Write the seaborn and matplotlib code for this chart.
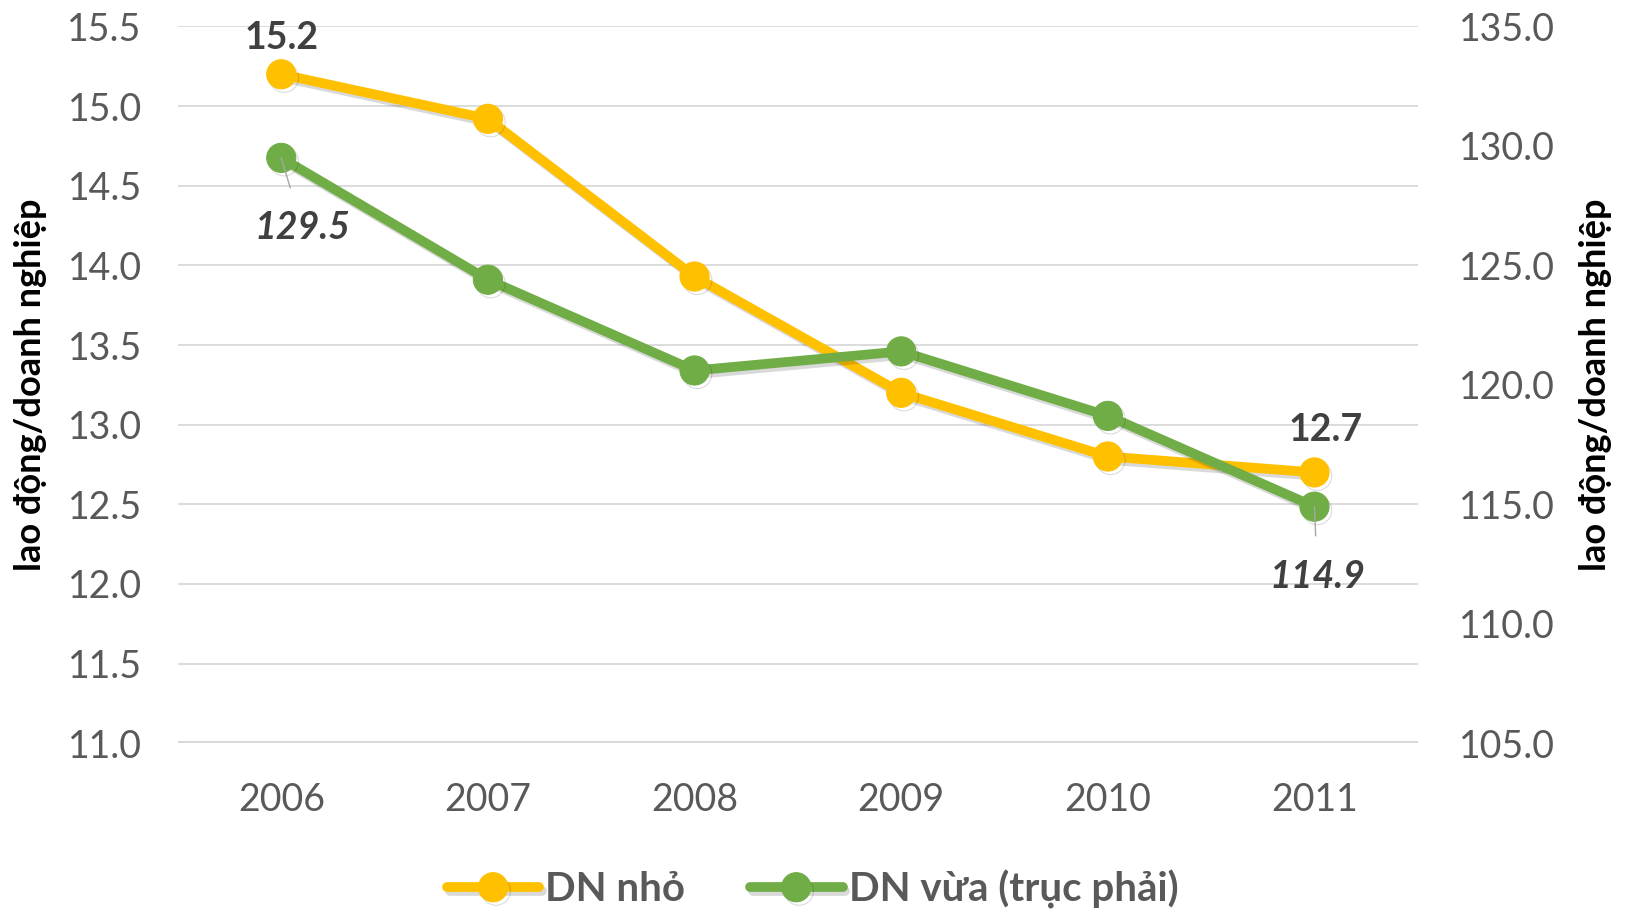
import matplotlib.pyplot as plt
import matplotlib.patheffects as pe
import numpy as np
import pandas as pd
import seaborn as sns

years = ['2006', '2007', '2008', '2009', '2010', '2011']
dn_nho = [15.2, 14.92, 13.93, 13.2, 12.8, 12.7]
dn_vua = [129.5, 124.4, 120.6, 121.4, 118.7, 114.9]

left_ticks = [11.0, 11.5, 12.0, 12.5, 13.0, 13.5, 14.0, 14.5, 15.0, 15.5]
right_ticks = [105.0, 110.0, 115.0, 120.0, 125.0, 130.0, 135.0]

YELLOW = '#FFC000'
GREEN = '#70AD47'
TICK_GREY = '#595959'
LABEL_GREY = '#404040'

sns.set_theme(style='white')
plt.rcParams['font.family'] = ['Lato', 'DejaVu Sans']

df = pd.DataFrame({'year': years, 'nho': dn_nho, 'vua': dn_vua})
x = np.arange(len(years))

fig = plt.figure(figsize=(16.25, 9.13), dpi=100)
ax = fig.add_axes([0.1095, 0.186, 0.763, 0.785])
ax2 = ax.twinx()

shadow = [pe.SimpleLineShadow(offset=(2, -2.5), alpha=0.15, shadow_color='black'), pe.Normal()]

sns.lineplot(x=x, y=df['nho'], ax=ax, color=YELLOW, lw=7, marker='o', ms=21,
             markeredgecolor=YELLOW, label='DN nhỏ', legend=False, zorder=3,
             path_effects=shadow)
sns.lineplot(x=x, y=df['vua'], ax=ax2, color=GREEN, lw=7, marker='o', ms=21,
             markeredgecolor=GREEN, label='DN vừa (trục phải)', legend=False, zorder=3,
             path_effects=shadow)

ax.set_xlim(-0.5, len(years) - 0.5)
ax.set_ylim(11.0, 15.5)
ax2.set_ylim(105.0, 135.0)
ax.set_yticks(left_ticks)
ax.set_yticklabels([f'{v:.1f}' for v in left_ticks])
ax2.set_yticks(right_ticks)
ax2.set_yticklabels([f'{v:.1f}' for v in right_ticks])
ax.set_xticks(x)
ax.set_xticklabels(years)

for a in (ax, ax2):
    for s in a.spines.values():
        s.set_visible(False)
    a.tick_params(length=0, labelsize=27, labelcolor=TICK_GREY)
ax.tick_params(axis='y', pad=26)
ax.tick_params(axis='x', pad=28)
ax2.tick_params(axis='y', pad=30)

ax.grid(axis='y', color='#D9D9D9', lw=1.3)
ax.axhline(11.0, color='#D9D9D9', lw=3, zorder=1)
ax.set_axisbelow(True)
ax2.grid(False)

ax.set_ylabel('lao động/doanh nghiệp', fontsize=26, fontweight='bold', color='black', labelpad=15)
ax2.set_ylabel('lao động/doanh nghiệp', fontsize=26, fontweight='bold', color='black', labelpad=17)

# data labels
ax.annotate(f'{dn_nho[0]:.1f}', (x[0], dn_nho[0]), xytext=(0, 14), textcoords='offset points',
            ha='center', va='bottom', fontsize=27, fontweight='bold', color=LABEL_GREY)
ax.annotate(f'{dn_nho[-1]:.1f}', (x[-1], dn_nho[-1]), xytext=(8, 18), textcoords='offset points',
            ha='center', va='bottom', fontsize=27, fontweight='bold', color=LABEL_GREY)
ax2.annotate(f'{dn_vua[0]:.1f}', (x[0], dn_vua[0]), xytext=(15, -50), textcoords='offset points',
             ha='center', va='center', fontsize=27, fontweight='bold', style='italic', color=LABEL_GREY,
             arrowprops=dict(arrowstyle='-', color='#A6A6A6', lw=1, shrinkA=14, shrinkB=0))
ax2.annotate(f'{dn_vua[-1]:.1f}', (x[-1], dn_vua[-1]), xytext=(2, -50), textcoords='offset points',
             ha='center', va='center', fontsize=27, fontweight='bold', style='italic', color=LABEL_GREY,
             arrowprops=dict(arrowstyle='-', color='#A6A6A6', lw=1, shrinkA=14, shrinkB=0))

h1, l1 = ax.get_legend_handles_labels()
h2, l2 = ax2.get_legend_handles_labels()
leg = fig.legend(h1 + h2, l1 + l2, loc='center', bbox_to_anchor=(0.5, 0.026), ncol=2,
                 frameon=False, fontsize=29, handlelength=2.3, columnspacing=1.6, handletextpad=0.15)
for t in leg.get_texts():
    t.set_color(TICK_GREY)
    t.set_fontweight('bold')

fig.savefig('out.png', dpi=100)
